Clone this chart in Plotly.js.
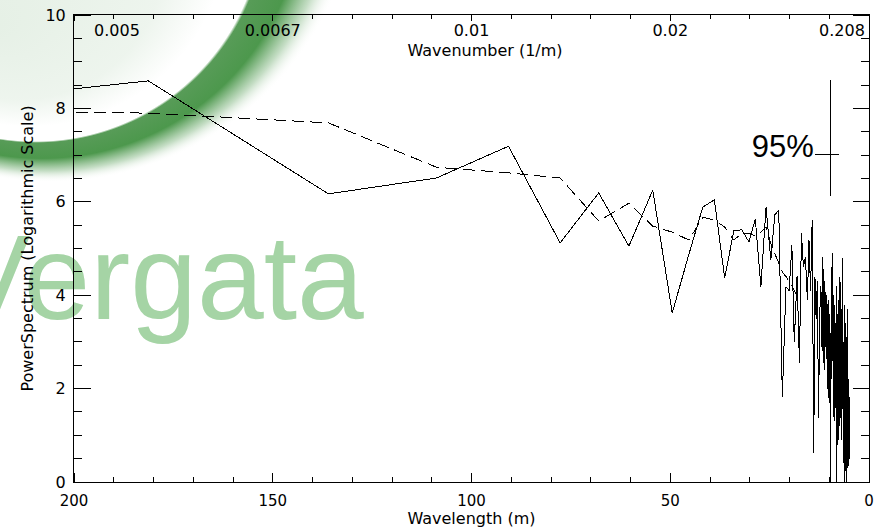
<!DOCTYPE html>
<html><head><meta charset="utf-8">
<script src="https://cdn.plot.ly/plotly-3.0.1.min.js"></script>
<style>html,body{margin:0;padding:0;background:#fff}#chart{width:875px;height:528px}
.scatterlayer path.js-line{shape-rendering:crispEdges}</style>
</head><body><div id="chart"></div>
<script>
// Wavelength (m) of each spectral estimate
const wavelength = [272, 181.3, 136, 108.8, 90.7, 77.7, 68, 60.4, 54.4, 49.5,
  45.3, 41.8, 38.9, 36.3, 34, 32, 30.2, 28.6, 27.2, 25.9,
  24.7, 23.7, 22.7, 21.8, 20.9, 20.1, 19.4, 18.8, 18.1, 17.5,
  17, 16.5, 16, 15.5, 15.1, 14.7, 14.3, 13.9, 13.6, 13.3,
  13, 12.7, 12.4, 12.1, 11.8, 11.6, 11.3, 11.1, 10.9, 10.7,
  10.5, 10.3, 10.1, 9.9, 9.7, 9.5, 9.4, 9.2, 9.1, 8.9,
  8.8, 8.6, 8.5, 8.4, 8.2, 8.1, 8, 7.9, 7.8, 7.7,
  7.6, 7.5, 7.4, 7.3, 7.2, 7.1, 7, 6.9, 6.8, 6.7,
  6.63, 6.55, 6.48, 6.4, 6.33, 6.25, 6.18, 6.11, 6.04, 5.98,
  5.91, 5.85, 5.79, 5.73, 5.67, 5.61, 5.55, 5.49, 5.44, 5.39,
  5.33, 5.28, 5.23, 5.18, 5.13, 5.08, 5.04, 4.99, 4.95, 4.9,
  4.86, 4.81];
// Power spectrum (log scale), solid line
const powerSpectrum = [7.76, 8.59, 6.17, 6.51, 7.19, 5.12, 6.19, 5.05, 6.25, 3.62,
  4.88, 5.89, 6.04, 4.37, 5.38, 5.40, 5.14, 5.63, 4.18, 5.89,
  4.75, 5.72, 5.82, 1.82, 4.18, 4.10, 5.07, 3.00, 4.40, 2.55,
  5.33, 4.60, 4.82, 3.90, 5.18, 4.10, 5.61, 0.62, 4.40, 3.50,
  4.30, 1.37, 3.60, 4.20, 2.80, 4.82, 2.40, 4.30, 2.90, 4.00,
  2.00, 3.90, 1.80, 3.60, -0.50, 4.60, 2.20, 4.90, 2.60, 4.00,
  1.30, 3.80, 2.00, 3.40, -0.30, 4.20, 1.50, 3.60, 0.80, 3.90,
  1.90, 3.30, 1.20, 4.40, 2.40, 3.20, 0.90, 3.70, 1.60, 4.80,
  2.10, 3.50, 0.40, 3.00, 1.70, 3.80, 1.10, 2.90, -0.40, 3.40,
  1.40, 2.80, 0.60, 3.10, 1.90, -0.60, 2.60, 0.90, 3.20, 1.50,
  3.70, 0.30, 2.70, 1.20, 2.20, 0.70, 1.90, 1.00, 1.60, 0.50,
  1.30, 0.90];
// Smoothed / reference spectrum, dashed line
const smoothWavelength = [272, 181.3, 136, 108.8, 90.7, 77.7, 68, 60.4, 54.4, 49.5,
  45.3, 41.8, 38.9, 36.3, 34, 32, 30.2, 28.6, 27.2, 25.9,
  24.7, 23.7, 22.7, 21.8, 20.9, 20.1, 19.4, 18.8, 18.1];
const smoothSpectrum = [7.95, 7.90, 7.69, 6.74, 6.62, 6.51, 5.59, 5.97, 5.48, 5.35,
  5.18, 5.67, 5.61, 5.46, 5.18, 5.33, 5.33, 5.27, 5.35, 5.46,
  5.10, 4.90, 4.70, 4.50, 4.40, 4.30, 4.20, 4.10, 4.00];
// Axis tick positions
const xMajorTicks = [200, 150, 100, 50, 0];
const xMinorTicks = [190, 180, 170, 160, 140, 130, 120, 110, 90, 80, 70, 60, 40, 30, 20, 10];
const yMajorTicks = [0, 2, 4, 6, 8, 10];
const yMinorTicks = [0.5, 1, 1.5, 2.5, 3, 3.5, 4.5, 5, 5.5, 6.5, 7, 7.5, 8.5, 9, 9.5];
// Top axis (wavenumber) labels
const topTickPos = [189.2, 150, 100, 50, 6.8];
const topTickLabels = ['0.005', '0.0067', '0.01', '0.02', '0.208'];
const topLabelLevel = 9.64;
const topTitle = 'Wavenumber (1/m)';
const topTitlePos = [96.6, 9.2];
// 95% confidence bar
const ciWavelength = 9.8;
const ciRange = [6.12, 8.61];
const ciTickSpan = [13.6, 7.55];
const ciLevel = 7.02;
const ciLabel = '95%';
const ciLabelPos = [13.9, 7.12];

const FONT = 'DejaVu Sans';
const black = '#000';

const L = 74, R = 6, T = 15, B = 46, W = 875, H = 528;
const pw = W - L - R, ph = H - T - B;
const xRange = [200, 0], yRange = [0, 10];
const xPerPx = Math.abs(xRange[0] - xRange[1]) / pw;
const yPerPx = Math.abs(yRange[1] - yRange[0]) / ph;

// Tick marks drawn as one line trace (inside ticks on all four sides)
const tickX = [], tickY = [];
function seg(x0, y0, x1, y1) { tickX.push(x0, x1, null); tickY.push(y0, y1, null); }
function xTicks(vals, lenBottom, lenTop) {
  vals.forEach(v => {
    seg(v, yRange[0], v, yRange[0] + lenBottom * yPerPx);
    seg(v, yRange[1], v, yRange[1] - lenTop * yPerPx);
  });
}
function yTicks(vals, lenLeft, lenRight) {
  vals.forEach(v => {
    seg(xRange[0], v, xRange[0] - lenLeft * xPerPx, v);
    seg(xRange[1], v, xRange[1] + lenRight * xPerPx, v);
  });
}
xTicks(xMajorTicks, 9, 6);
xTicks(xMinorTicks, 5, 4);
yTicks(yMajorTicks, 17, 16);
yTicks(yMinorTicks, 8, 8);

const traces = [
  {x: tickX, y: tickY, mode: 'lines', connectgaps: false, line: {color: black, width: 1}, hoverinfo: 'skip'},
  {x: wavelength, y: powerSpectrum, mode: 'lines', line: {color: black, width: 1}, hoverinfo: 'skip'},
  {x: smoothWavelength, y: smoothSpectrum, mode: 'lines', line: {color: black, width: 1, dash: '12px,6px'}, hoverinfo: 'skip'},
  {x: [ciWavelength, ciWavelength], y: ciRange, mode: 'lines', line: {color: black, width: 1}, hoverinfo: 'skip'},
  {x: ciTickSpan, y: [ciLevel, ciLevel], mode: 'lines', line: {color: black, width: 1}, hoverinfo: 'skip'},
  {x: topTickPos, y: topTickPos.map(() => topLabelLevel), mode: 'text', text: topTickLabels,
   textposition: 'middle center', textfont: {family: FONT, size: 16, color: black}, cliponaxis: false, hoverinfo: 'skip'},
  {x: [topTitlePos[0]], y: [topTitlePos[1]], mode: 'text', text: [topTitle],
   textposition: 'middle center', textfont: {family: FONT, size: 16, color: black}, cliponaxis: false, hoverinfo: 'skip'},
  {x: [ciLabelPos[0]], y: [ciLabelPos[1]], mode: 'text', text: [ciLabel],
   textposition: 'middle left', textfont: {family: 'Liberation Sans', size: 31, color: black}, cliponaxis: false, hoverinfo: 'skip'}
];

const ring = "<svg xmlns='http://www.w3.org/2000/svg' width='875' height='528' viewBox='0 0 875 528'>" +
  "<defs><radialGradient id='g' cx='52' cy='-133' r='320' fx='-6' fy='28' gradientUnits='userSpaceOnUse'>" +
  "<stop offset='0' stop-color='#3c8c3c' stop-opacity='0.13'/>" +
  "<stop offset='0.45' stop-color='#3c8c3c' stop-opacity='0.09'/>" +
  "<stop offset='0.62' stop-color='#3c8c3c' stop-opacity='0'/>" +
  "<stop offset='0.712' stop-color='#3c8c3c' stop-opacity='0'/>" +
  "<stop offset='0.722' stop-color='#3a8a3a' stop-opacity='0.85'/>" +
  "<stop offset='0.82' stop-color='#3d8f3d' stop-opacity='0.92'/>" +
  "<stop offset='0.90' stop-color='#5aa05a' stop-opacity='0.35'/>" +
  "<stop offset='0.97' stop-color='#ffffff' stop-opacity='0'/>" +
  "</radialGradient></defs><circle cx='52' cy='-133' r='320' fill='url(#g)'/></svg>";

const layout = {
  width: W, height: H,
  margin: {l: L, r: R, t: T, b: B},
  paper_bgcolor: '#fff', plot_bgcolor: 'rgba(0,0,0,0)',
  showlegend: false,
  font: {family: FONT, size: 15, color: black},
  xaxis: {
    range: xRange, tickvals: xMajorTicks, ticks: '',
    showline: true, linecolor: black, linewidth: 1, mirror: true,
    showgrid: false, zeroline: false, ticklabelstandoff: 5,
    tickfont: {family: FONT, size: 15, color: black},
    title: {text: 'Wavelength (m)', font: {family: FONT, size: 16, color: black}, standoff: 5}
  },
  yaxis: {
    range: yRange, tickvals: yMajorTicks, ticks: '',
    showline: true, linecolor: black, linewidth: 1, mirror: true,
    showgrid: false, zeroline: false, ticklabelstandoff: 4,
    tickfont: {family: FONT, size: 16, color: black},
    title: {text: 'PowerSpectrum (Logarithmic Scale)', font: {family: FONT, size: 16, color: black}, standoff: 7}
  },
  images: [{
    source: 'data:image/svg+xml;charset=utf-8,' + encodeURIComponent(ring),
    xref: 'paper', yref: 'paper', x: -L / pw, y: 1 + T / ph,
    sizex: W / pw, sizey: H / ph, sizing: 'stretch', xanchor: 'left', yanchor: 'top', layer: 'below'
  }],
  shapes: [{
    type: 'rect', xref: 'paper', yref: 'paper', layer: 'below',
    x0: (157 - 74) / pw - 0.02, x1: (157 - 74) / pw + 0.02,
    y0: (482 - 266) / ph - 0.02, y1: (482 - 266) / ph + 0.02,
    line: {width: 0}, fillcolor: 'rgba(0,0,0,0)',
    label: {text: 'Vergata', textposition: 'middle center',
      font: {family: 'Liberation Sans', size: 120, color: '#a5d4a5'}}
  }]
};

Plotly.newPlot('chart', traces, layout, {displayModeBar: false, staticPlot: true});
</script></body></html>
